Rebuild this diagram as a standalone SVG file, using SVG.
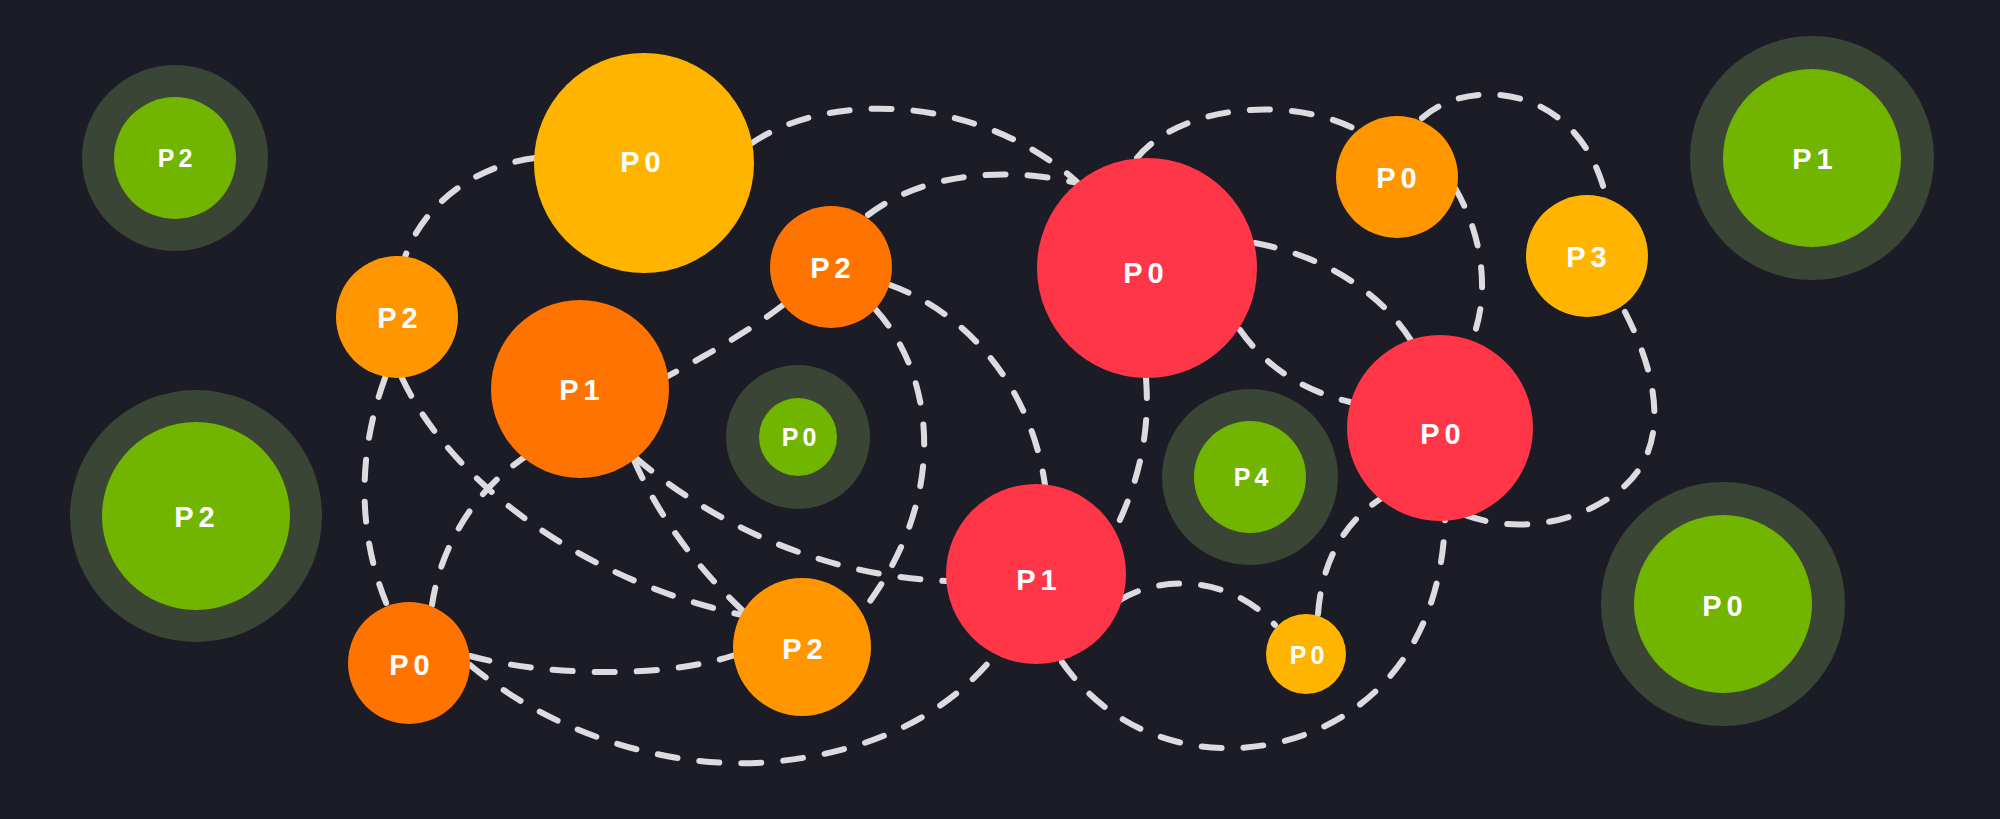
<svg xmlns="http://www.w3.org/2000/svg" width="2000" height="819" viewBox="0 0 2000 819">
<style>
.bg{fill:#1b1c26}
.edge{fill:none;stroke:#dcdce0;stroke-width:6;stroke-dasharray:20 22;stroke-linecap:round}
.yel{fill:#ffb500}
.org{fill:#ff9600}
.dor{fill:#ff7300}
.red{fill:#ff3548}
.ring{fill:#3b4536}
.grn{fill:#72b500}
.lbl{font-family:"Liberation Sans",Arial,sans-serif;font-weight:bold;font-size:29px;letter-spacing:5px;fill:#ffffff;text-anchor:middle}
.sm{font-size:25px;letter-spacing:4px}
</style>
<rect class="bg" x="0" y="0" width="2000" height="819"/>
<g id="connectors">
<path class="edge" d="M 752 143 C 830 90, 980 95, 1077 182"/>
<path class="edge" d="M 868 215 C 920 175, 1000 165, 1077 183"/>
<path class="edge" d="M 535 158 C 480 165, 425 200, 405 257"/>
<path class="edge" d="M 385 378 C 355 460, 360 540, 387 605"/>
<path class="edge" d="M 402 378 C 450 480, 580 580, 742 615"/>
<path class="edge" d="M 783 305 C 704 366, 570 420, 510 468 C 470 500, 440 550, 432 605"/>
<path class="edge" d="M 634 460 C 660 520, 700 570, 742 610"/>
<path class="edge" d="M 636 458 C 690 505, 800 575, 946 581"/>
<path class="edge" d="M 876 310 C 930 370, 955 490, 862 612"/>
<path class="edge" d="M 890 285 C 960 310, 1030 380, 1045 485"/>
<path class="edge" d="M 470 656 C 540 675, 660 680, 735 655"/>
<path class="edge" d="M 470 665 C 560 740, 680 770, 770 762 C 880 752, 950 710, 995 655"/>
<path class="edge" d="M 1137 158 C 1180 105, 1290 95, 1357 130"/>
<path class="edge" d="M 1422 118 C 1470 75, 1580 85, 1606 197"/>
<path class="edge" d="M 1455 188 C 1480 230, 1492 290, 1472 340"/>
<path class="edge" d="M 1255 243 C 1320 255, 1380 290, 1412 342"/>
<path class="edge" d="M 1240 330 C 1265 365, 1300 390, 1350 402"/>
<path class="edge" d="M 1146 378 C 1150 430, 1140 480, 1115 530"/>
<path class="edge" d="M 1625 312 C 1660 380, 1670 450, 1620 490 C 1580 522, 1520 535, 1465 515"/>
<path class="edge" d="M 1062 662 C 1110 730, 1180 750, 1236 748 C 1330 745, 1440 680, 1445 520"/>
<path class="edge" d="M 1120 600 C 1160 575, 1230 575, 1275 625"/>
<path class="edge" d="M 1318 614 C 1322 560, 1345 520, 1385 496"/>
</g>
<g id="n-green-p2-tl"><circle class="ring" cx="175" cy="158" r="93"/><circle class="grn" cx="175" cy="158" r="61"/><text class="lbl sm" x="177" y="167">P2</text></g>
<g id="n-green-p2-l"><circle class="ring" cx="196" cy="516" r="126"/><circle class="grn" cx="196" cy="516" r="94"/><text class="lbl" x="197" y="527">P2</text></g>
<g id="n-green-p0-mid"><circle class="ring" cx="798" cy="437" r="72"/><circle class="grn" cx="798" cy="437" r="39"/><text class="lbl sm" x="801" y="446">P0</text></g>
<g id="n-green-p4"><circle class="ring" cx="1250" cy="477" r="88"/><circle class="grn" cx="1250" cy="477" r="56"/><text class="lbl sm" x="1253" y="486">P4</text></g>
<g id="n-green-p1-tr"><circle class="ring" cx="1812" cy="158" r="122"/><circle class="grn" cx="1812" cy="158" r="89"/><text class="lbl" x="1815" y="169">P1</text></g>
<g id="n-green-p0-br"><circle class="ring" cx="1723" cy="604" r="122"/><circle class="grn" cx="1723" cy="604" r="89"/><text class="lbl" x="1725" y="616">P0</text></g>
<g id="n-yel-p0-big"><circle class="yel" cx="644" cy="163" r="110"/><text class="lbl" x="643" y="172">P0</text></g>
<g id="n-org-p2-l"><circle class="org" cx="397" cy="317" r="61"/><text class="lbl" x="400" y="328">P2</text></g>
<g id="n-dor-p1"><circle class="dor" cx="580" cy="389" r="89"/><text class="lbl" x="582" y="400">P1</text></g>
<g id="n-dor-p2-top"><circle class="dor" cx="831" cy="267" r="61"/><text class="lbl" x="833" y="278">P2</text></g>
<g id="n-red-p0-big"><circle class="red" cx="1147" cy="268" r="110"/><text class="lbl" x="1146" y="283">P0</text></g>
<g id="n-org-p0-tr"><circle class="org" cx="1397" cy="177" r="61"/><text class="lbl" x="1399" y="188">P0</text></g>
<g id="n-yel-p3"><circle class="yel" cx="1587" cy="256" r="61"/><text class="lbl" x="1589" y="267">P3</text></g>
<g id="n-red-p0-r"><circle class="red" cx="1440" cy="428" r="93"/><text class="lbl" x="1443" y="444">P0</text></g>
<g id="n-red-p1"><circle class="red" cx="1036" cy="574" r="90"/><text class="lbl" x="1039" y="590">P1</text></g>
<g id="n-yel-p0-sm"><circle class="yel" cx="1306" cy="654" r="40"/><text class="lbl sm" x="1309" y="664">P0</text></g>
<g id="n-dor-p0-bl"><circle class="dor" cx="409" cy="663" r="61"/><text class="lbl" x="412" y="675">P0</text></g>
<g id="n-org-p2-b"><circle class="org" cx="802" cy="647" r="69"/><text class="lbl" x="805" y="659">P2</text></g>
</svg>
